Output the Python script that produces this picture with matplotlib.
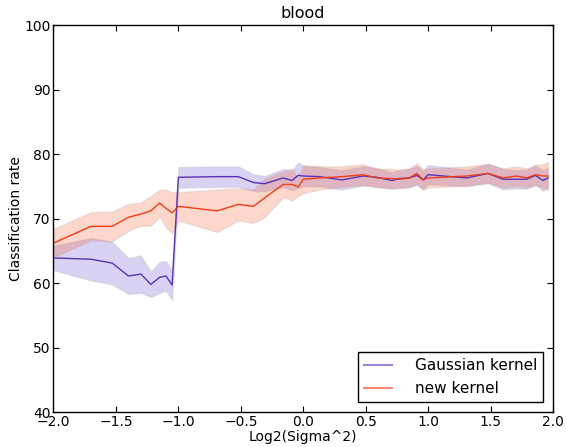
import numpy as np
import matplotlib
matplotlib.use('Agg')
import matplotlib.pyplot as plt
from matplotlib.lines import Line2D

# DADOS
log_sigma = [-2.0, -1.7, -1.53, -1.4, -1.3, -1.22, -1.15, -1.1, -1.05, -1.0,
             -0.69, -0.52, -0.40, -0.31, -0.16, -0.09, -0.04, 0.0, 0.13, 0.31,
             0.48, 0.59, 0.71, 0.77, 0.85, 0.91, 0.96, 1.0, 1.31, 1.48,
             1.60, 1.71, 1.79, 1.86, 1.92, 1.96]

gauss_mean = [63.9, 63.7, 63.1, 61.1, 61.4, 59.8, 60.9, 61.1, 59.7, 76.4,
              76.5, 76.5, 75.6, 75.4, 76.3, 75.9, 76.7, 76.6, 76.5, 76.0,
              76.6, 76.4, 75.9, 76.2, 76.3, 76.7, 76.0, 76.8, 76.3, 77.0,
              76.1, 76.1, 76.1, 76.7, 75.9, 76.3]
gauss_std = [1.9, 3.3, 3.3, 2.8, 2.9, 2.0, 2.4, 2.3, 2.3, 1.6,
             1.6, 1.6, 1.3, 1.2, 1.4, 1.5, 2.0, 1.6, 1.5, 1.5,
             1.5, 1.4, 1.3, 1.4, 1.4, 1.5, 1.4, 1.5, 1.3, 1.5,
             1.6, 1.4, 1.5, 1.5, 1.6, 1.5]

new_mean = [66.2, 68.8, 68.8, 70.2, 70.7, 71.2, 72.4, 71.6, 70.9, 71.9,
            71.2, 72.2, 71.9, 73.2, 75.3, 75.3, 74.9, 76.1, 76.3, 76.5,
            76.8, 76.3, 76.2, 76.1, 76.3, 77.0, 76.0, 76.3, 76.6, 77.0,
            76.3, 76.6, 76.3, 76.8, 76.6, 76.6]
new_std = [2.2, 2.2, 2.3, 2.1, 1.8, 2.3, 2.1, 2.9, 3.2, 2.2,
           3.3, 2.5, 2.6, 3.0, 2.0, 2.5, 1.4, 2.2, 1.8, 1.6,
           1.6, 1.5, 1.5, 1.4, 1.5, 1.6, 1.6, 1.5, 1.5, 1.5,
           1.5, 1.5, 1.5, 1.6, 1.8, 2.2]

x_ticks = [-2.0, -1.5, -1.0, -0.5, 0.0, 0.5, 1.0, 1.5, 2.0]
y_ticks = [40, 50, 60, 70, 80, 90, 100]

x = np.array(log_sigma)
g_m, g_s = np.array(gauss_mean), np.array(gauss_std)
n_m, n_s = np.array(new_mean), np.array(new_std)

COR_GAUSS = '#5a32b8'
COR_NEW = '#f03c14'

fig = plt.figure(figsize=(5.66, 4.47), dpi=100)
ax = fig.add_axes([0.0945, 0.078, 0.8825, 0.866])

ax.fill_between(x, g_m - g_s, g_m + g_s, facecolor='#6a4ed0', alpha=0.25,
                edgecolor='#b0b0b0', linewidth=1)
ax.fill_between(x, n_m - n_s, n_m + n_s, facecolor='#f86030', alpha=0.25,
                edgecolor='#b0b0b0', linewidth=1)
ax.plot(x, g_m, color=COR_GAUSS, linewidth=1)
ax.plot(x, n_m, color=COR_NEW, linewidth=1)

ax.set_xlim(-2, 2)
ax.set_ylim(40, 100)
ax.set_xticks(x_ticks)
ax.set_xticklabels([f'{v:.1f}'.replace('-', '\u2212') for v in x_ticks])
ax.set_yticks(y_ticks)
ax.tick_params(direction='in', top=True, right=True, length=4, pad=2,
               labelsize=10)
for lado in ax.spines.values():
    lado.set_linewidth(1)

ax.set_title('blood', fontsize=11.5, pad=5)
ax.set_xlabel('Log2(Sigma^2)', fontsize=10, labelpad=1)
ax.set_ylabel('Classification rate', fontsize=10, labelpad=1)

handles = [Line2D([], [], color=COR_GAUSS, alpha=0.6, linewidth=1.5),
           Line2D([], [], color=COR_NEW, alpha=0.6, linewidth=1.5)]
leg = ax.legend(handles, ['Gaussian kernel', 'new kernel'], loc='lower right',
                fontsize=11, fancybox=False, framealpha=1, borderaxespad=0.65,
                handlelength=1.8, handletextpad=1.5)
leg.get_frame().set_edgecolor('black')
leg.get_frame().set_linewidth(1)

plt.savefig('out.png', dpi=100)
